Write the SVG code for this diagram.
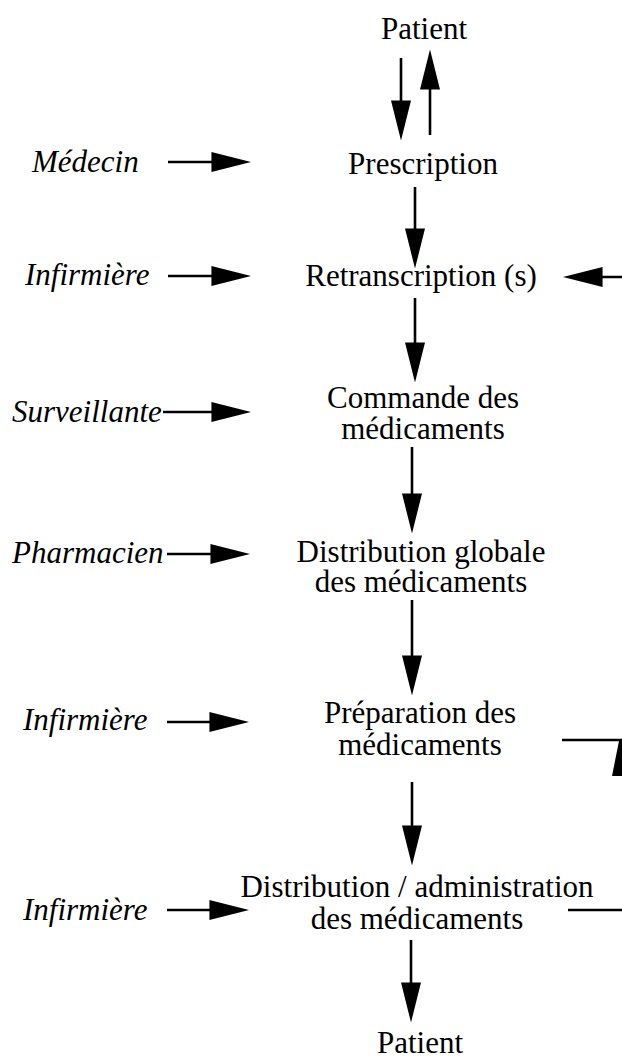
<svg xmlns="http://www.w3.org/2000/svg" width="622" height="1058" viewBox="0 0 622 1058">
<style>
.n{font-family:"Liberation Serif","Times New Roman",serif;font-size:31px;fill:#000;text-anchor:middle}
.a{font-family:"Liberation Serif","Times New Roman",serif;font-size:31px;font-style:italic;fill:#000}
.c line{stroke:#000;stroke-width:2.6;fill:none}
.h{stroke:#000;stroke-width:3.2;fill:none}
</style>
<defs>
<marker id="ah" markerUnits="userSpaceOnUse" markerWidth="40" markerHeight="20" viewBox="0 0 38 19" refX="30" refY="9.5" orient="auto">
<path d="M0,0 L38,9.5 L0,19 z" fill="#000"/>
</marker>
</defs>
<rect width="622" height="1058" fill="#fff"/>
<g id="patient-top"><text class="n" x="424" y="39">Patient</text></g>
<g id="prescription"><text class="n" x="423" y="174">Prescription</text></g>
<g id="retranscription"><text class="n" x="421" y="286">Retranscription (s)</text></g>
<g id="commande"><text class="n" x="423" y="408">Commande des</text><text class="n" x="423" y="439">médicaments</text></g>
<g id="distribution-globale"><text class="n" x="421" y="562">Distribution globale</text><text class="n" x="421" y="592">des médicaments</text></g>
<g id="preparation"><text class="n" x="420" y="723">Préparation des</text><text class="n" x="420" y="755">médicaments</text></g>
<g id="distribution-administration"><text class="n" x="417" y="897">Distribution / administration</text><text class="n" x="417" y="929">des médicaments</text></g>
<g id="patient-bottom"><text class="n" x="420" y="1053">Patient</text></g>
<g id="medecin"><text class="a" x="32" y="172">Médecin</text></g>
<g id="infirmiere-1"><text class="a" x="25" y="285">Infirmière</text></g>
<g id="surveillante"><text class="a" x="12" y="422">Surveillante</text></g>
<g id="pharmacien"><text class="a" x="12" y="563">Pharmacien</text></g>
<g id="infirmiere-2"><text class="a" x="23" y="730">Infirmière</text></g>
<g id="infirmiere-3"><text class="a" x="23" y="920">Infirmière</text></g>
<g id="connectors" class="c">
<line x1="401" y1="58" x2="401" y2="132" marker-end="url(#ah)"/>
<line x1="430" y1="135" x2="430" y2="58" marker-end="url(#ah)"/>
<line x1="415" y1="187" x2="415" y2="260" marker-end="url(#ah)"/>
<line x1="415" y1="298" x2="415" y2="374" marker-end="url(#ah)"/>
<line x1="412" y1="447" x2="412" y2="525" marker-end="url(#ah)"/>
<line x1="412" y1="600" x2="412" y2="687" marker-end="url(#ah)"/>
<line x1="412" y1="782" x2="412" y2="857" marker-end="url(#ah)"/>
<line x1="411" y1="940" x2="411" y2="1014" marker-end="url(#ah)"/>
<line class="h" x1="168" y1="162" x2="243" y2="162" marker-end="url(#ah)"/>
<line class="h" x1="168" y1="276" x2="243" y2="276" marker-end="url(#ah)"/>
<line class="h" x1="163" y1="412" x2="243" y2="412" marker-end="url(#ah)"/>
<line class="h" x1="167" y1="554" x2="242" y2="554" marker-end="url(#ah)"/>
<line class="h" x1="167" y1="722" x2="241" y2="722" marker-end="url(#ah)"/>
<line class="h" x1="167" y1="910" x2="241" y2="910" marker-end="url(#ah)"/>
<line class="h" x1="626" y1="277" x2="571" y2="277" marker-end="url(#ah)"/>
<line class="h" x1="562" y1="740" x2="622" y2="740"/>
<polygon points="619,741 612,776 622,776 622,741" fill="#000"/>
<line x1="568" y1="910" x2="622" y2="910"/>
</g>
</svg>
